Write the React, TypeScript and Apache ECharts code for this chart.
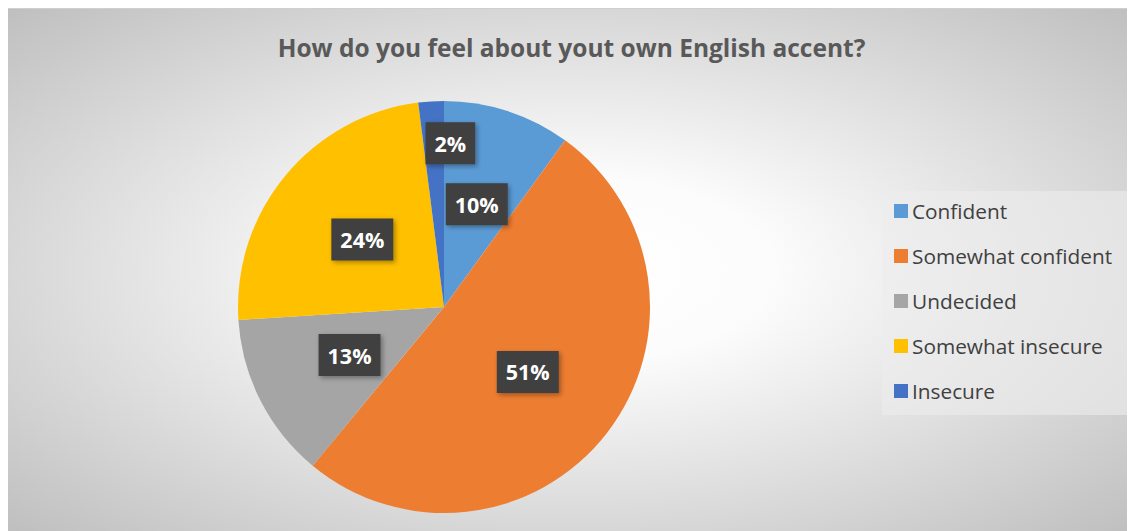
import React, { useEffect, useRef } from "react";
import * as echarts from "echarts";

const title = "How do you feel about yout own English accent?";
const categories = ["Confident", "Somewhat confident", "Undecided", "Somewhat insecure", "Insecure"];
const values = [10, 51, 13, 24, 2];
const colors = ["#5B9BD5", "#ED7D31", "#A5A5A5", "#FFC000", "#4472C4"];

export default function App() {
  const ref = useRef<HTMLDivElement>(null);
  useEffect(() => {
    if (!ref.current) return;
    const chart = echarts.init(ref.current, undefined, { renderer: "svg" });
    const font = "'Open Sans', 'Noto Sans', sans-serif";
    chart.setOption({
      animation: false,
      backgroundColor: "transparent",
      title: {
        text: title,
        left: "center",
        top: 21,
        textStyle: { fontFamily: font, fontSize: 24.5, fontWeight: "bold", color: "#595959" },
      },
      graphic: [
        {
          type: "rect",
          shape: { x: 874, y: 182, width: 245, height: 224 },
          style: { fill: "rgba(236,236,236,0.6)" },
          z: 0,
        },
      ],
      legend: {
        orient: "vertical",
        left: 874,
        top: 182,
        padding: [9, 12, 10, 12],
        itemWidth: 14,
        itemHeight: 14,
        itemGap: 23,
        icon: "rect",
        data: categories,
        textStyle: { fontFamily: font, fontSize: 20.8, color: "#404040", lineHeight: 22, padding: [0, 0, 0, -1] },
      },
      series: [
        {
          type: "pie",
          center: [436, 298],
          radius: [0, 206],
          startAngle: 90,
          clockwise: true,
          avoidLabelOverlap: false,
          itemStyle: { borderWidth: 0 },
          label: {
            show: true,
            position: "inside",
            formatter: "{d}%",
            fontFamily: font,
            fontSize: 21.5,
            fontWeight: "bold",
            color: "#ffffff",
            backgroundColor: "#3f3f3f",
            padding: [10, 9, 10, 9],
            shadowColor: "rgba(0,0,0,0.35)",
            shadowBlur: 5,
            shadowOffsetX: 2,
            shadowOffsetY: 2,
          },
          labelLine: { show: false },
          emphasis: { disabled: true },
          data: categories.map((name, i) => ({
            name,
            value: values[i],
            itemStyle: { color: colors[i] },
            label: i === 4 ? { offset: [13, -58] } : i === 0 ? { offset: [0, -2] } : undefined,
          })),
        },
      ],
    });
    return () => chart.dispose();
  }, []);
  return (
    <div
      ref={ref}
      style={{
        width: 1127,
        height: 523,
        boxSizing: "border-box",
        borderTop: "1px solid #cfcfcf",
        background: "radial-gradient(ellipse farthest-corner at 50% 50%, #ffffff 0%, #fcfcfc 25%, #bfbfbf 100%)",
      }}
    />
  );
}
